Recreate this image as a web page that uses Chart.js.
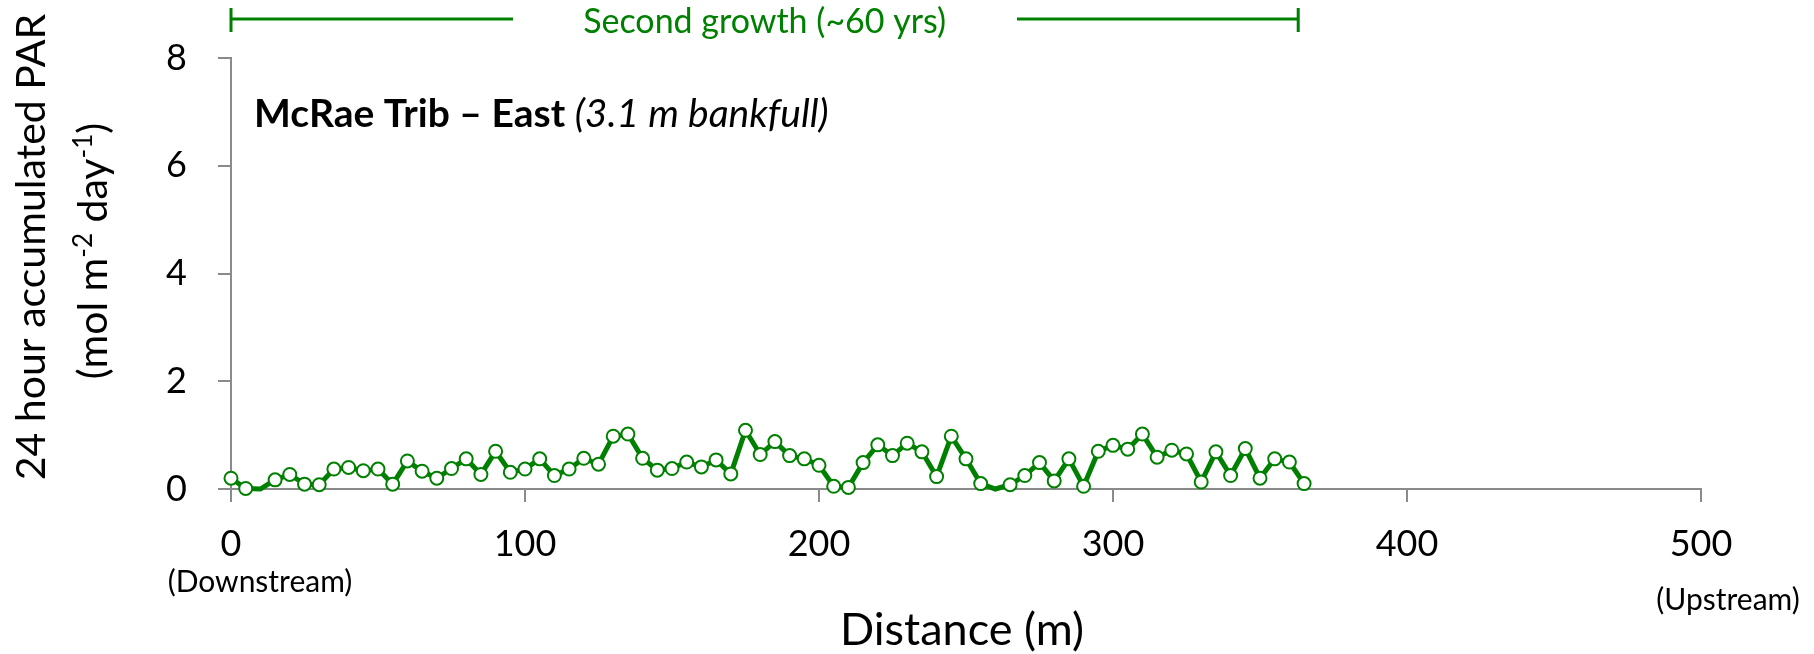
<!DOCTYPE html>
<html>
<head>
<meta charset="utf-8">
<script src="https://cdn.jsdelivr.net/npm/chart.js@4.4.1/dist/chart.umd.min.js"></script>
<style>
  html, body { margin: 0; padding: 0; background: #fff; }
  #par-chart { display: block; }
</style>
</head>
<body>
<canvas id="par-chart" width="1814" height="654"></canvas>
<script>
// distance along the reach (m), one reading every 5 m
const distances = [
  0, 5, 10, 15, 20, 25, 30, 35, 40, 45,
  50, 55, 60, 65, 70, 75, 80, 85, 90, 95,
  100, 105, 110, 115, 120, 125, 130, 135, 140, 145,
  150, 155, 160, 165, 170, 175, 180, 185, 190, 195,
  200, 205, 210, 215, 220, 225, 230, 235, 240, 245,
  250, 255, 260, 265, 270, 275, 280, 285, 290, 295,
  300, 305, 310, 315, 320, 325, 330, 335, 340, 345,
  350, 355, 360, 365
];
// 24 h accumulated PAR (mol m-2 day-1)
const parValues = [
  0.20, 0.01, 0, 0.17, 0.27, 0.09, 0.08, 0.37, 0.40, 0.34,
  0.37, 0.09, 0.52, 0.33, 0.20, 0.38, 0.56, 0.27, 0.70, 0.31,
  0.37, 0.56, 0.25, 0.37, 0.57, 0.46, 0.98, 1.02, 0.57, 0.35,
  0.38, 0.50, 0.41, 0.54, 0.28, 1.09, 0.64, 0.88, 0.62, 0.56,
  0.44, 0.05, 0.03, 0.49, 0.82, 0.62, 0.85, 0.69, 0.23, 0.98,
  0.56, 0.10, 0, 0.08, 0.25, 0.49, 0.15, 0.56, 0.05, 0.70,
  0.81, 0.74, 1.02, 0.59, 0.72, 0.65, 0.13, 0.69, 0.25, 0.75,
  0.20, 0.56, 0.50, 0.10
];
const xTicks = [0, 100, 200, 300, 400, 500];
const yTicks = [0, 2, 4, 6, 8];
// reach covered by the "Second growth" bracket (m)
const standRange = [0, 363];

const GREEN = '#008000';
const AXIS = '#8a8a8a';
const FONT = 'Lato, "Open Sans", sans-serif';

const points = distances.map((d, i) => ({ x: d, y: parValues[i] }));

// extra text + bracket drawn over the chart
const extras = {
  id: 'extras',
  afterDraw(chart) {
    const ctx = chart.ctx;
    const xs = chart.scales.x;
    ctx.save();

    // bracket for the stand type
    const x0 = xs.getPixelForValue(standRange[0]);
    const x1 = xs.getPixelForValue(standRange[1]);
    const by = 19;
    ctx.strokeStyle = GREEN;
    ctx.lineWidth = 3;
    ctx.beginPath();
    ctx.moveTo(x0, 8); ctx.lineTo(x0, 32);
    ctx.moveTo(x1, 8); ctx.lineTo(x1, 32);
    ctx.moveTo(x0, by); ctx.lineTo(513, by);
    ctx.moveTo(1017, by); ctx.lineTo(x1, by);
    ctx.stroke();
    ctx.fillStyle = GREEN;
    ctx.font = '34px ' + FONT;
    ctx.textAlign = 'center';
    ctx.textBaseline = 'middle';
    ctx.fillText('Second growth (~60 yrs)', (x0 + x1) / 2, 22);

    // site title, bold part + italic part
    ctx.fillStyle = '#000';
    ctx.textAlign = 'left';
    ctx.textBaseline = 'alphabetic';
    ctx.font = 'bold 39px ' + FONT;
    const bold = 'McRae Trib \u2013 East ';
    ctx.fillText(bold, 254, 127);
    const bw = ctx.measureText(bold).width;
    ctx.font = 'italic 39px ' + FONT;
    ctx.fillText('(3.1 m bankfull)', 254 + bw, 127);

    // x axis title and end notes
    ctx.textAlign = 'center';
    ctx.textBaseline = 'middle';
    ctx.font = '45px ' + FONT;
    ctx.fillText('Distance (m)', 962, 630);
    ctx.font = '30px ' + FONT;
    ctx.fillText('(Downstream)', 260, 582);
    ctx.fillText('(Upstream)', 1728, 600);

    // y axis title, two rotated lines
    ctx.textBaseline = 'alphabetic';
    ctx.save();
    ctx.translate(45, 247);
    ctx.rotate(-Math.PI / 2);
    ctx.font = '41px ' + FONT;
    ctx.textAlign = 'center';
    ctx.fillText('24 hour accumulated PAR', 0, 0);
    ctx.restore();

    ctx.save();
    ctx.translate(107, 251);
    ctx.rotate(-Math.PI / 2);
    const parts = [
      ['(mol m', false], ['-2', true], [' day', false], ['-1', true], [')', false]
    ];
    const big = '41px ' + FONT, small = '26px ' + FONT;
    let total = 0;
    parts.forEach(p => { ctx.font = p[1] ? small : big; total += ctx.measureText(p[0]).width; });
    let cx = -total / 2;
    ctx.textAlign = 'left';
    parts.forEach(p => {
      ctx.font = p[1] ? small : big;
      ctx.fillText(p[0], cx, p[1] ? -15 : 0);
      cx += ctx.measureText(p[0]).width;
    });
    ctx.restore();

    ctx.restore();
  }
};

new Chart(document.getElementById('par-chart'), {
  type: 'line',
  data: {
    datasets: [{
      label: 'PAR',
      data: points,
      borderColor: GREEN,
      borderWidth: 5,
      backgroundColor: '#fff',
      pointBackgroundColor: '#fff',
      pointBorderColor: GREEN,
      pointBorderWidth: 2,
      pointRadius: c => (c.raw && c.raw.y === 0 ? 0 : 6.5),
      tension: 0,
      clip: false
    }]
  },
  options: {
    responsive: false,
    animation: false,
    layout: { padding: { top: 58, right: 113, left: 0, bottom: 0 } },
    plugins: { legend: { display: false }, tooltip: { enabled: false } },
    scales: {
      x: {
        type: 'linear',
        min: 0,
        max: 500,
        afterBuildTicks: s => { s.ticks = xTicks.map(v => ({ value: v })); },
        afterFit: s => { s.height = 165; },
        ticks: { color: '#000', font: { size: 36, family: FONT }, padding: 21, maxRotation: 0 },
        grid: { drawOnChartArea: false, color: AXIS, lineWidth: 2, tickLength: 13 },
        border: { color: AXIS, width: 2 }
      },
      y: {
        min: 0,
        max: 8,
        afterBuildTicks: s => { s.ticks = yTicks.map(v => ({ value: v })); },
        afterFit: s => { s.width = 231; },
        ticks: { color: '#000', font: { size: 36, family: FONT }, padding: 31 },
        grid: { drawOnChartArea: false, color: AXIS, lineWidth: 2, tickLength: 13 },
        border: { color: AXIS, width: 2 }
      }
    }
  },
  plugins: [extras]
});
</script>
</body>
</html>
